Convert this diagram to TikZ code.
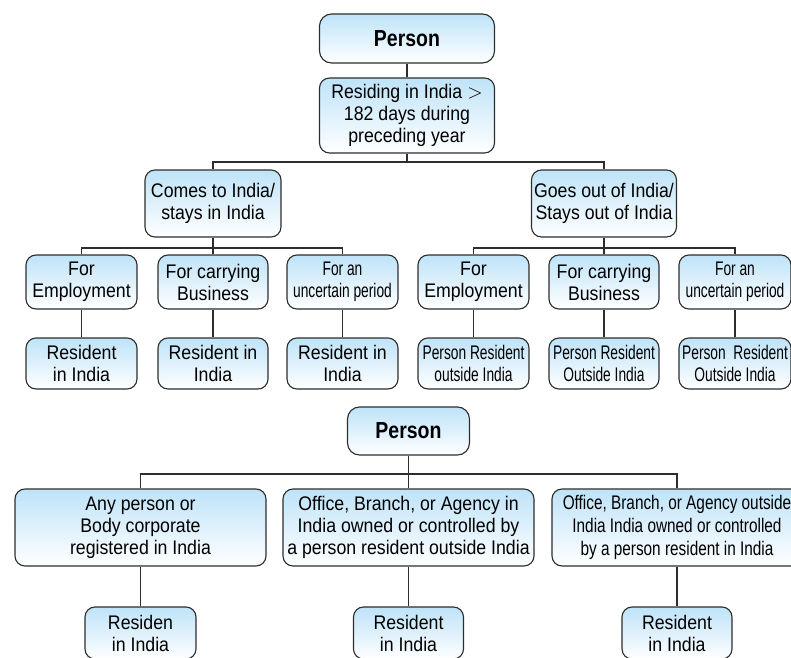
\documentclass[tikz,border=0pt]{standalone}
\usepackage{fontspec}
\setmainfont[FakeStretch=0.9]{Liberation Sans}
\newfontfamily\headfont[FakeStretch=0.84]{Liberation Sans}
\newfontfamily\condfont[FakeStretch=0.7]{Liberation Sans}
\newfontfamily\semicondfont[FakeStretch=0.78]{Liberation Sans}
\definecolor{boxblue}{RGB}{190,227,248}
\definecolor{linegray}{RGB}{45,45,45}
\begin{document}
\begin{tikzpicture}[x=0.025cm, y=-0.025cm,
    box/.style={draw=linegray, line width=0.8pt, rounded corners=0.25cm,
        top color=boxblue, bottom color=white, align=center, inner sep=0pt,
        font=\fontsize{14}{15.6}\selectfont},
    headbox/.style={box, rounded corners=0.3cm, font=\fontsize{16.5}{18}\selectfont\headfont\bfseries},
    narrow/.style={font=\fontsize{14}{15.6}\selectfont\condfont},
    semi/.style={font=\fontsize{14}{16.2}\selectfont\semicondfont},
    sz/.style 2 args={minimum width=#1*0.025cm, minimum height=#2*0.025cm},
    link/.style={draw=linegray, line width=0.8pt}]
    \useasboundingbox (0,0) rectangle (791,658);
    \clip (0,0) rectangle (791,658);

    % first tree
    \node[headbox, sz={175}{49}] (person) at (407,38.5) {Person};
    \node[box, sz={175}{75}] (reside) at (407,115.5) {Residing in India $>$\\182 days during\\preceding year};
    \node[box, sz={136}{67}] (comes) at (213,203.5) {Comes to India/\\stays in India};
    \node[box, sz={145}{67}] (goes) at (604,203.5) {Goes out of India/\\Stays out of India};

    \node[box, sz={111}{54}] (emp1) at (81.5,282) {For\\Employment};
    \node[box, sz={110}{54}] (bus1) at (213,282) {For carrying\\Business};
    \node[box, narrow, sz={111}{54}] (unc1) at (342.5,282) {For an\\uncertain period};
    \node[box, sz={111}{54}] (emp2) at (473.5,282) {For\\Employment};
    \node[box, sz={110}{54}] (bus2) at (604,282) {For carrying\\Business};
    \node[box, narrow, sz={112}{54}] (unc2) at (735,282) {For an\\uncertain period};

    \node[box, sz={111}{51}] (res1) at (81.5,363.5) {Resident\\in India};
    \node[box, sz={110}{51}] (res2) at (213,363.5) {Resident in\\India};
    \node[box, sz={111}{51}] (res3) at (342.5,363.5) {Resident in\\India};
    \node[box, narrow, sz={111}{51}] (out1) at (473.5,363.5) {Person Resident\\outside India};
    \node[box, narrow, sz={110}{51}] (out2) at (604,363.5) {Person Resident\\Outside India};
    \node[box, narrow, sz={112}{51}] (out3) at (735,363.5) {Person~ Resident\\Outside India};

    \coordinate (j1) at (407,162);
    \coordinate (j2) at (213,248);
    \coordinate (j3) at (604,248);
    \draw[link] (person) -- (reside);
    \draw[link] (reside) -- (j1);
    \draw[link] (comes.north) |- (j1) -| (goes.north);
    \draw[link] (comes) -- (bus1);
    \draw[link] (emp1.north) |- (j2) -| (unc1.north);
    \draw[link] (goes) -- (bus2);
    \draw[link] (emp2.north) |- (j3) -| (unc2.north);
    \foreach \a/\b in {emp1/res1, bus1/res2, unc1/res3, emp2/out1, bus2/out2, unc2/out3}
        \draw[link] (\a) -- (\b);

    % second tree
    \node[headbox, sz={122}{48}] (person2) at (408.5,431) {Person};
    \node[box, sz={251}{77}] (body) at (140.5,527.5) {Any person or\\Body corporate\\registered in India};
    \node[box, sz={251}{77}] (offin) at (408.5,527.5) {Office, Branch, or Agency in\\India owned or controlled by\\a person resident outside India};
    \node[box, semi, sz={250}{77}] (offout) at (677,527.5) {Office, Branch, or Agency outside\\India India owned or controlled\\by a person resident in India};

    \node[box, sz={111}{52}] (fin1) at (140.5,633) {Residen\\in India};
    \node[box, sz={110}{52}] (fin2) at (408.5,633) {Resident\\in India};
    \node[box, sz={110}{52}] (fin3) at (677,633) {Resident\\in India};

    \coordinate (j4) at (408.5,474);
    \draw[link] (person2) -- (offin);
    \draw[link] (body.north) |- (j4) -| (offout.north);
    \foreach \a/\b in {body/fin1, offin/fin2, offout/fin3}
        \draw[link] (\a) -- (\b);
\end{tikzpicture}
\end{document}
